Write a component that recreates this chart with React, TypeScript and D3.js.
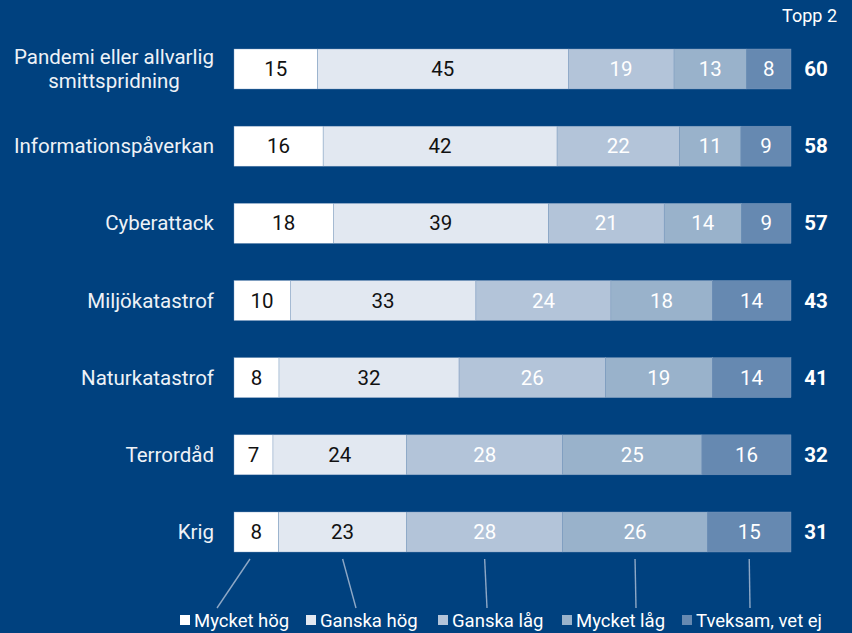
import React from "react";
import * as d3 from "d3";

const width = 852;
const height = 633;

// risk categories, top to bottom
const categories = [
  "Pandemi eller allvarlig\nsmittspridning",
  "Informationspåverkan",
  "Cyberattack",
  "Miljökatastrof",
  "Naturkatastrof",
  "Terrordåd",
  "Krig",
];

const seriesNames = ["Mycket hög", "Ganska hög", "Ganska låg", "Mycket låg", "Tveksam, vet ej"];

const mycketHog = [15, 16, 18, 10, 8, 7, 8];
const ganskaHog = [45, 42, 39, 33, 32, 24, 23];
const ganskaLag = [19, 22, 21, 24, 26, 28, 28];
const mycketLag = [13, 11, 14, 18, 19, 25, 26];
const tveksam = [8, 9, 9, 14, 14, 16, 15];
const topp2 = [60, 58, 57, 43, 41, 32, 31];

const colors = ["#ffffff", "#e2e8f1", "#b3c4d9", "#99b2cb", "#6689b1"];
const textColors = ["#111", "#111", "#fff", "#fff", "#fff"];
const bg = "#00417f";
const font = "Roboto, 'Noto Sans', sans-serif";

// legend placement (square x) and where the pointer lines end
const legendX = [180, 306, 438, 562, 682];
const pointerEnd = [217, 356, 487, 636, 750];

export default function App() {
  const rows = categories.map((c, i) => ({
    cat: c,
    [seriesNames[0]]: mycketHog[i],
    [seriesNames[1]]: ganskaHog[i],
    [seriesNames[2]]: ganskaLag[i],
    [seriesNames[3]]: mycketLag[i],
    [seriesNames[4]]: tveksam[i],
  }));

  const stacked = d3
    .stack<any>()
    .keys(seriesNames)
    .offset(d3.stackOffsetExpand)(rows);

  const x = d3.scaleLinear().domain([0, 1]).range([234, 791]);
  const y = d3.scalePoint<string>().domain(categories).range([69, 532]);
  const barH = 40;
  const last = categories[categories.length - 1];
  const fs = 20.5;

  return (
    <svg width={width} height={height} style={{ display: "block", position: "absolute", left: 0, top: 0 }}>
      <rect width={width} height={height} fill={bg} />
      <text x={837} y={22} fill="#fff" fontFamily={font} fontSize={18} textAnchor="end">
        Topp 2
      </text>

      {categories.map((c) => {
        const lines = c.split("\n");
        const cy = y(c)!;
        if (lines.length > 1) {
          return (
            <text key={c} x={114} fill="#eef2f7" fontFamily={font} fontSize={fs} textAnchor="middle">
              {lines.map((l, j) => (
                <tspan key={j} x={114} y={cy - 12 + j * 24 + 7}>
                  {l}
                </tspan>
              ))}
            </text>
          );
        }
        return (
          <text key={c} x={214} y={cy + 7} fill="#eef2f7" fontFamily={font} fontSize={fs} textAnchor="end">
            {c}
          </text>
        );
      })}

      {stacked.map((s, si) => (
        <g key={s.key}>
          {s.map((d, i) => {
            const x0 = x(d[0]);
            const x1 = x(d[1]);
            const cy = y(categories[i])!;
            return (
              <g key={i}>
                <rect
                  x={x0}
                  y={cy - barH / 2}
                  width={x1 - x0}
                  height={barH}
                  fill={colors[si]}
                  stroke="#7f9dc0"
                  strokeWidth={0.4}
                />
                <text
                  x={(x0 + x1) / 2}
                  y={cy + 7}
                  fill={textColors[si]}
                  fontFamily={font}
                  fontSize={fs}
                  textAnchor="middle"
                >
                  {(d.data as any)[s.key]}
                </text>
              </g>
            );
          })}
        </g>
      ))}

      {topp2.map((v, i) => (
        <text
          key={i}
          x={816}
          y={y(categories[i])! + 7}
          fill="#fff"
          fontFamily={font}
          fontSize={fs}
          fontWeight="bold"
          textAnchor="middle"
        >
          {v}
        </text>
      ))}

      {stacked.map((s, si) => {
        const d = s[s.length - 1];
        const mx = (x(d[0]) + x(d[1])) / 2;
        return (
          <line
            key={s.key}
            x1={si === 0 ? 250 : mx}
            y1={y(last)! + barH / 2 + 7}
            x2={pointerEnd[si]}
            y2={608}
            stroke="#8ea8c6"
            strokeWidth={1.4}
          />
        );
      })}

      {seriesNames.map((n, i) => (
        <g key={n} transform={`translate(${legendX[i]},0)`}>
          <rect x={0} y={615} width={10} height={10} fill={colors[i]} />
          <text x={14} y={627} fill="#fff" fontFamily={font} fontSize={18.5}>
            {n}
          </text>
        </g>
      ))}
    </svg>
  );
}
